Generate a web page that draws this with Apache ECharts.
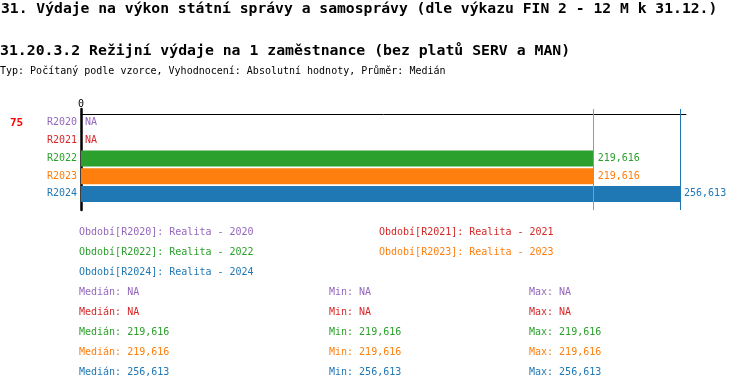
<!DOCTYPE html>
<html><head><meta charset="utf-8">
<script src="https://cdn.jsdelivr.net/npm/echarts@6/dist/echarts.min.js"></script>
<style>html,body{margin:0;padding:0;background:#fff}#c{width:750px;height:390px}</style>
</head><body><div id="c"></div>
<script>
const titleText = '31. Výdaje na výkon státní správy a samosprávy (dle výkazu FIN 2 - 12 M k 31.12.)';
const subtitleText = '31.20.3.2 Režijní výdaje na 1 zaměstnance (bez platů SERV a MAN)';
const infoText = 'Typ: Počítaný podle vzorce, Vyhodnocení: Absolutní hodnoty, Průměr: Medián';
const rankText = '75';
const categories = ['R2020', 'R2021', 'R2022', 'R2023', 'R2024'];
const periodNames = ['Realita - 2020', 'Realita - 2021', 'Realita - 2022', 'Realita - 2023', 'Realita - 2024'];
const values = [null, null, 219616, 219616, 256613];
const medians = [null, null, 219616, 219616, 256613];
const mins = [null, null, 219616, 219616, 256613];
const maxs = [null, null, 219616, 219616, 256613];
const colors = ['#9467bd', '#d62728', '#2ca02c', '#ff7f0e', '#1f77b4'];
const axisMax = 259180;

const MONO = '"DejaVu Sans Mono", monospace';
const fmt = v => v == null ? 'NA' : v.toLocaleString('en-US');

const chart = echarts.init(document.getElementById('c'), null, {renderer: 'canvas'});

const rich = {};
categories.forEach((c, i) => { rich['c' + i] = {color: colors[i], fontFamily: MONO, fontSize: 10}; });

const graphics = [];
function txt(x, y, text, color, size, weight) {
  graphics.push({type: 'text', x: x, y: y, silent: true,
    style: {text: text, fill: color, font: (weight || 'normal') + ' ' + size + 'px ' + MONO, verticalAlign: 'middle', align: 'left'}});
}
txt(1, 9, titleText, '#000', 14.7, 'bold');
txt(0, 51.5, subtitleText, '#000', 14.8, 'bold');
txt(0, 71, infoText, '#000', 10);
txt(10, 123, rankText, '#ff0000', 11, 'bold');
categories.forEach((c, i) => {
  const col = i % 2, row = Math.floor(i / 2);
  txt(79 + col * 300, 232.7 + row * 20, 'Období[' + c + ']: ' + periodNames[i], colors[i], 10);
});
categories.forEach((c, i) => {
  const y = 292.3 + i * 20;
  txt(79, y, 'Medián: ' + fmt(medians[i]), colors[i], 10);
  txt(329, y, 'Min: ' + fmt(mins[i]), colors[i], 10);
  txt(529, y, 'Max: ' + fmt(maxs[i]), colors[i], 10);
});

const barData = values.map((v, i) => ({
  value: v == null ? 0 : v,
  na: v == null,
  itemStyle: {color: colors[i]},
  label: {color: colors[i]}
}));

const lineData = [];
values.forEach((v, i) => { if (v != null) lineData.push({xAxis: v, lineStyle: {color: colors[i], width: 1, type: 'solid'}}); });

chart.setOption({
  animation: false,
  grid: [
    {left: 81, right: 64, top: 114, height: 88.75},
    {left: 81, right: 64, top: 109, bottom: 180}
  ],
  xAxis: [
    {gridIndex: 0, type: 'value', position: 'top', min: 0, max: axisMax,
      axisLine: {show: true, lineStyle: {color: '#000', width: 1}},
      axisTick: {show: false}, splitLine: {show: false},
      axisLabel: {formatter: v => v === 0 ? '0' : '', color: '#000', fontFamily: MONO, fontSize: 10, margin: 5}},
    {gridIndex: 1, type: 'value', min: 0, max: axisMax, show: false}
  ],
  yAxis: [
    {gridIndex: 0, type: 'category', inverse: true, data: categories,
      axisLine: {show: false}, axisTick: {show: false}, splitLine: {show: false},
      axisLabel: {margin: 4, formatter: (v, i) => '{c' + i + '|' + v + '}', rich: rich}},
    {gridIndex: 1, type: 'value', min: 0, max: 1,
      axisLine: {show: true, onZero: false, lineStyle: {color: '#000', width: 2.5}},
      axisTick: {show: false}, axisLabel: {show: false}, splitLine: {show: false}}
  ],
  series: [
    {type: 'bar', xAxisIndex: 0, yAxisIndex: 0, data: barData, barWidth: 16,
      label: {show: true, position: 'right', distance: 4, fontFamily: MONO, fontSize: 10,
        formatter: p => p.data.na ? 'NA' : fmt(p.value)}},
    {type: 'line', xAxisIndex: 1, yAxisIndex: 1, data: [], silent: true,
      markLine: {symbol: 'none', silent: true, label: {show: false}, data: lineData}}
  ],
  graphic: graphics
});
</script></body></html>
